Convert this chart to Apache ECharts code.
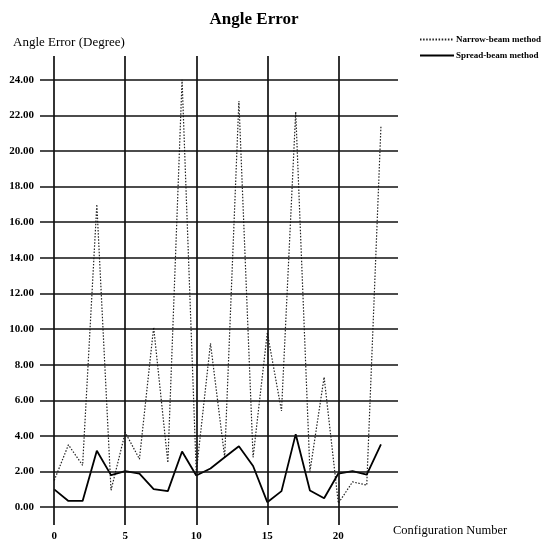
<!DOCTYPE html>
<html><head><meta charset="utf-8">
<script src="https://cdn.jsdelivr.net/npm/echarts@6/dist/echarts.min.js"></script>
<style>html,body{margin:0;padding:0;background:#fff}#c{width:548px;height:542px}</style>
</head><body><div id="c"></div>
<script>
const configs = [0,1,2,3,4,5,6,7,8,9,10,11,12,13,14,15,16,17,18,19,20,21,22,23];
const narrowBeam = [1.5,3.5,2.35,17.0,0.95,4.2,2.7,10.1,2.5,24.0,1.95,9.2,2.8,22.8,2.8,9.8,5.4,22.2,2.0,7.3,0.22,1.42,1.24,21.4];
const spreadBeam = [1.0,0.35,0.35,3.17,1.8,2.03,1.89,1.02,0.9,3.13,1.78,2.17,2.8,3.42,2.31,0.28,0.9,4.1,0.94,0.5,1.89,2.02,1.83,3.52];
const xTickLabels = [0,5,10,15,20];
const yTickLabels = [0,2,4,6,8,10,12,14,16,18,20,22,24];

const FONT = 'Liberation Serif';
const chart = echarts.init(document.getElementById('c'), null, {renderer:'canvas'});
const gridLines = [];
xTickLabels.forEach(v => gridLines.push({xAxis: v}));
yTickLabels.forEach(v => gridLines.push({yAxis: v}));

chart.setOption({
  animation: false,
  backgroundColor: '#fff',
  title: {
    text: 'Angle Error', left: 249, top: 6, textAlign: 'center',
    textStyle: {fontFamily: FONT, fontWeight: 'bold', fontSize: 17, color: '#000'}
  },
  legend: {
    data: ['Narrow-beam method', 'Spread-beam method'],
    orient: 'vertical', left: 414, top: 30, itemGap: 7, itemWidth: 34, itemHeight: 8,
    itemStyle: {opacity: 0},
    textStyle: {fontFamily: FONT, fontWeight: 'bold', fontSize: 9, color: '#000', padding: [0,0,0,-3]}
  },
  graphic: [
    {type: 'text', left: 13, top: 36, style: {text: 'Angle Error (Degree)', font: '13px "Liberation Serif"', fill: '#000'}},
    {type: 'text', left: 393, top: 524, style: {text: 'Configuration Number', font: '12.5px "Liberation Serif"', fill: '#000'}}
  ],
  grid: {left: 40, right: 150, top: 56, bottom: 12, containLabel: false},
  xAxis: {
    type: 'value', min: -1, max: 24.2, interval: 1,
    axisLine: {show: false}, axisTick: {show: false}, splitLine: {show: false},
    axisLabel: {
      margin: 6, fontFamily: FONT, fontSize: 11, fontWeight: 'bold', color: '#000',
      formatter: v => (xTickLabels.indexOf(v) >= 0 ? String(v) : '')
    }
  },
  yAxis: {
    type: 'value', min: -1, max: 25.33, interval: 1,
    axisLine: {show: false}, axisTick: {show: false}, splitLine: {show: false},
    axisLabel: {
      margin: 6, fontFamily: FONT, fontSize: 11, fontWeight: 'bold', color: '#000',
      formatter: v => (yTickLabels.indexOf(v) >= 0 ? v.toFixed(2) : '')
    }
  },
  series: [
    {
      name: 'gridlines', type: 'line', data: [], silent: true, z: 1,
      markLine: {
        silent: true, symbol: 'none', label: {show: false},
        lineStyle: {color: '#111', width: 1.7, type: 'solid'},
        data: gridLines
      }
    },
    {
      name: 'Narrow-beam method', type: 'line', z: 3,
      data: configs.map((c, i) => [c, narrowBeam[i]]),
      symbol: 'none',
      lineStyle: {color: '#222', width: 1.2, type: [1.5, 1.6]},
      itemStyle: {color: '#222'}
    },
    {
      name: 'Spread-beam method', type: 'line', z: 4,
      data: configs.map((c, i) => [c, spreadBeam[i]]),
      symbol: 'none',
      lineStyle: {color: '#000', width: 1.8, type: 'solid'},
      itemStyle: {color: '#000'}
    }
  ]
});
</script></body></html>
